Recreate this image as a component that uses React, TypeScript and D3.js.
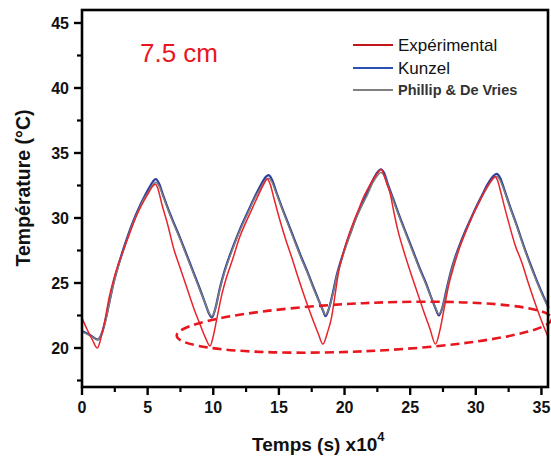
import React from "react";
import * as d3 from "d3";

const timeRed = [0, 0.4, 0.8, 1.17, 1.45, 1.75, 2.05, 2.39, 2.75, 3.15, 3.55, 3.92, 4.3, 4.68, 5.05, 5.44, 5.6, 5.8, 6.1, 6.5, 7.0, 7.5, 8.0, 8.5, 9.0, 9.4, 9.75, 10.0, 10.3, 10.65, 11.0, 11.5, 12.0, 12.5, 13.0, 13.5, 13.85, 14.1, 14.3, 14.6, 15.0, 15.5, 16.0, 16.5, 17.0, 17.5, 18.0, 18.35, 18.7, 19.02, 19.25, 19.53, 19.9, 20.29, 20.65, 21.05, 21.4, 21.8, 22.2, 22.58, 22.78, 23.0, 23.2, 23.47, 23.75, 24.05, 24.5, 25.0, 25.5, 26.0, 26.5, 26.93, 27.25, 27.6, 27.95, 28.3, 28.8, 29.3, 29.8, 30.3, 30.8, 31.2, 31.45, 31.65, 31.9, 32.2, 32.6, 33.0, 33.5, 34.0, 34.5, 35.0, 35.55];
const tempExperimental = [22.3, 21.4, 20.6, 20.0, 20.8, 22.15, 23.8, 25.2, 26.4, 27.5, 28.6, 29.6, 30.5, 31.25, 31.9, 32.5, 32.6, 32.2, 31.0, 29.6, 27.6, 26.1, 24.6, 23.1, 21.8, 20.8, 20.15, 20.9, 22.4, 24.1, 25.4, 26.9, 28.5, 29.7, 30.8, 31.9, 32.6, 33.0, 32.7, 31.6, 30.1, 28.4, 26.9, 25.3, 23.8, 22.4, 21.1, 20.3, 21.2, 22.4, 23.9, 25.75, 27.3, 28.6, 29.6, 30.6, 31.5, 32.3, 33.0, 33.55, 33.75, 33.3, 32.7, 31.9, 30.5, 29.1, 27.5, 25.9, 24.4, 22.9, 21.5, 20.3, 21.3, 23.1, 24.9, 26.2, 27.8, 29.1, 30.3, 31.3, 32.3, 32.9, 33.2, 32.9, 32.0, 30.8, 29.3, 27.9, 26.6, 25.0, 23.5, 22.1, 20.75];

const timeModel = [0, 0.6, 1.2, 1.5, 1.8, 2.1, 2.4, 2.75, 3.15, 3.55, 3.92, 4.3, 4.68, 5.05, 5.4, 5.62, 5.85, 6.2, 6.6, 7.0, 7.5, 8.0, 8.5, 9.0, 9.4, 9.7, 9.9, 10.15, 10.5, 10.85, 11.25, 11.7, 12.1, 12.6, 13.1, 13.6, 13.95, 14.2, 14.45, 14.8, 15.2, 15.7, 16.2, 16.7, 17.2, 17.7, 18.1, 18.35, 18.55, 18.8, 19.1, 19.4, 19.75, 20.1, 20.5, 20.9, 21.3, 21.75, 22.15, 22.5, 22.75, 23.0, 23.3, 23.7, 24.2, 24.7, 25.2, 25.7, 26.2, 26.6, 26.95, 27.18, 27.45, 27.75, 28.05, 28.4, 28.8, 29.2, 29.6, 30.0, 30.45, 30.9, 31.3, 31.58, 31.85, 32.2, 32.6, 33.1, 33.6, 34.1, 34.6, 35.1, 35.55];
const tempKunzel = [21.3, 21.0, 20.65, 21.1, 22.2, 23.6, 25.0, 26.3, 27.6, 28.8, 29.8, 30.7, 31.5, 32.2, 32.8, 33.0, 32.7, 31.7, 30.6, 29.6, 28.4, 27.1, 25.8, 24.5, 23.4, 22.6, 22.35, 23.0, 24.6, 25.9, 27.1, 28.3, 29.3, 30.4, 31.5, 32.5, 33.1, 33.3, 33.0, 32.0, 30.9, 29.6, 28.3, 27.0, 25.8, 24.5, 23.5, 22.9, 22.45, 23.0, 24.2, 25.6, 26.8, 27.9, 29.0, 30.1, 31.0, 32.0, 32.9, 33.5, 33.75, 33.5, 32.6, 31.5, 30.1, 28.8, 27.5, 26.2, 25.0, 23.9, 23.0, 22.5, 23.1, 24.4, 25.7, 26.9, 28.0, 29.0, 29.9, 30.8, 31.7, 32.6, 33.2, 33.4, 33.1, 32.1, 30.9, 29.5, 28.0, 26.6, 25.3, 24.1, 23.1];
const tempPhillip = [21.25, 20.95, 20.65, 21.1, 22.1, 23.5, 24.9, 26.2, 27.5, 28.7, 29.7, 30.6, 31.4, 32.0, 32.55, 32.75, 32.5, 31.6, 30.5, 29.5, 28.3, 27.0, 25.7, 24.4, 23.4, 22.65, 22.45, 23.0, 24.5, 25.8, 27.0, 28.2, 29.2, 30.3, 31.4, 32.3, 32.85, 33.05, 32.8, 31.9, 30.8, 29.5, 28.2, 26.9, 25.7, 24.4, 23.5, 22.95, 22.55, 23.0, 24.1, 25.5, 26.7, 27.8, 28.9, 30.0, 30.9, 31.8, 32.7, 33.25, 33.5, 33.3, 32.5, 31.4, 30.0, 28.7, 27.4, 26.1, 24.9, 23.9, 23.05, 22.6, 23.1, 24.3, 25.6, 26.8, 27.9, 28.9, 29.8, 30.7, 31.6, 32.4, 33.0, 33.2, 32.9, 32.0, 30.8, 29.4, 27.9, 26.5, 25.2, 24.0, 23.05];

const xTicks = [0, 5, 10, 15, 20, 25, 30, 35];
const xMinorTicks = [2.5, 7.5, 12.5, 17.5, 22.5, 27.5, 32.5];
const yTicks = [20, 25, 30, 35, 40, 45];
const yMinorTicks = [17.5, 22.5, 27.5, 32.5, 37.5, 42.5];

const legendLabels = ["Expérimental", "Kunzel", "Phillip & De Vries"];
const annotationText = "7.5 cm";
const xAxisTitle = "Temps (s) x10";
const xAxisExponent = "4";
const yAxisTitle = "Température (°C)";

// ellipse annotation in data units: center, radii
const ellipseCenter = [21.5, 21.6];
const ellipseRadii = [14.3, 1.85];

const W = 551;
const H = 456;
const M = { left: 82, right: 548, top: 10, bottom: 387 };
const FONT = "'Liberation Sans', Arial, Helvetica, sans-serif";

export default function App() {
  const x = d3.scaleLinear().domain([0, 35.5]).range([M.left, M.right]);
  const y = d3.scaleLinear().domain([17, 46]).range([M.bottom, M.top]);

  const mk = (ts: number[], vs: number[]) =>
    d3
      .line<number>()
      .x((_, i) => x(ts[i]))
      .y((v) => y(v))
      .curve(d3.curveMonotoneX)(vs) || "";

  const redPath = mk(timeRed, tempExperimental);
  const bluePath = mk(timeModel, tempKunzel);
  const grayPath = mk(timeModel, tempPhillip);

  const red = "#e8242b";
  const blue = "#2b3f9e";
  const gray = "#7d7d7d";

  const ecx = x(ellipseCenter[0]);
  const ecy = y(ellipseCenter[1]);
  const erx = x(ellipseRadii[0]) - x(0);
  const ery = y(0) - y(ellipseRadii[1]);

  const legendY = [45, 68, 90];
  const legendColors = ["#c4161c", "#2a50b4", "#808080"];

  return (
    <svg
      width={W}
      height={H}
      style={{ position: "absolute", left: 0, top: 0, background: "#fff" }}
      fontFamily={FONT}
    >
      <rect x={0} y={0} width={W} height={H} fill="#fff" />
      {/* data lines */}
      <path d={bluePath} fill="none" stroke={blue} strokeWidth={2.2} />
      <path d={grayPath} fill="none" stroke={gray} strokeWidth={1.5} />
      <path d={redPath} fill="none" stroke={red} strokeWidth={1.5} />

      {/* ellipse annotation */}
      <ellipse
        cx={ecx}
        cy={ecy}
        rx={erx}
        ry={ery}
        fill="none"
        stroke="#e8161e"
        strokeWidth={2.6}
        strokeDasharray="9 5"
        transform={`rotate(-2.6 ${ecx} ${ecy})`}
      />

      {/* frame */}
      <rect
        x={M.left}
        y={M.top}
        width={M.right - M.left}
        height={M.bottom - M.top}
        fill="none"
        stroke="#000"
        strokeWidth={2.6}
      />

      {/* x ticks */}
      {xTicks.map((t) => (
        <g key={"xt" + t}>
          <line x1={x(t)} x2={x(t)} y1={M.bottom} y2={M.bottom + 8} stroke="#000" strokeWidth={2.4} />
          <text x={x(t)} y={413} textAnchor="middle" fontSize={16} fontWeight="bold" fill="#111">
            {t}
          </text>
        </g>
      ))}
      {xMinorTicks.map((t) => (
        <line key={"xm" + t} x1={x(t)} x2={x(t)} y1={M.bottom} y2={M.bottom + 5} stroke="#000" strokeWidth={2.2} />
      ))}

      {/* y ticks */}
      {yTicks.map((t) => (
        <g key={"yt" + t}>
          <line x1={M.left - 8} x2={M.left} y1={y(t)} y2={y(t)} stroke="#000" strokeWidth={2.4} />
          <text x={69} y={y(t)} dy="0.36em" textAnchor="end" fontSize={16} fontWeight="bold" fill="#111">
            {t}
          </text>
        </g>
      ))}
      {yMinorTicks.map((t) => (
        <line key={"ym" + t} x1={M.left - 5} x2={M.left} y1={y(t)} y2={y(t)} stroke="#000" strokeWidth={2.2} />
      ))}

      {/* axis titles */}
      <text x={252} y={451} fontSize={19} fontWeight="bold" fill="#111">
        {xAxisTitle}
        <tspan dy={-10} fontSize={13}>
          {xAxisExponent}
        </tspan>
      </text>
      <text
        transform={`translate(30, 188) rotate(-90)`}
        textAnchor="middle"
        fontSize={19.5}
        fontWeight="bold"
        fill="#111"
      >
        {yAxisTitle}
      </text>

      {/* annotation */}
      <text x={140} y={62} fontSize={26} fill="#e8161e">
        {annotationText}
      </text>

      {/* legend */}
      {legendLabels.map((lab, i) => (
        <g key={lab}>
          <line x1={353} x2={393} y1={legendY[i]} y2={legendY[i]} stroke={legendColors[i]} strokeWidth={2} />
          <text
            x={398}
            y={legendY[i]}
            dy="0.36em"
            fontSize={i === 2 ? 14.5 : 17}
            fontWeight={i === 2 ? "bold" : "normal"}
            fill={i === 2 ? "#333" : "#111"}
          >
            {lab}
          </text>
        </g>
      ))}
    </svg>
  );
}
